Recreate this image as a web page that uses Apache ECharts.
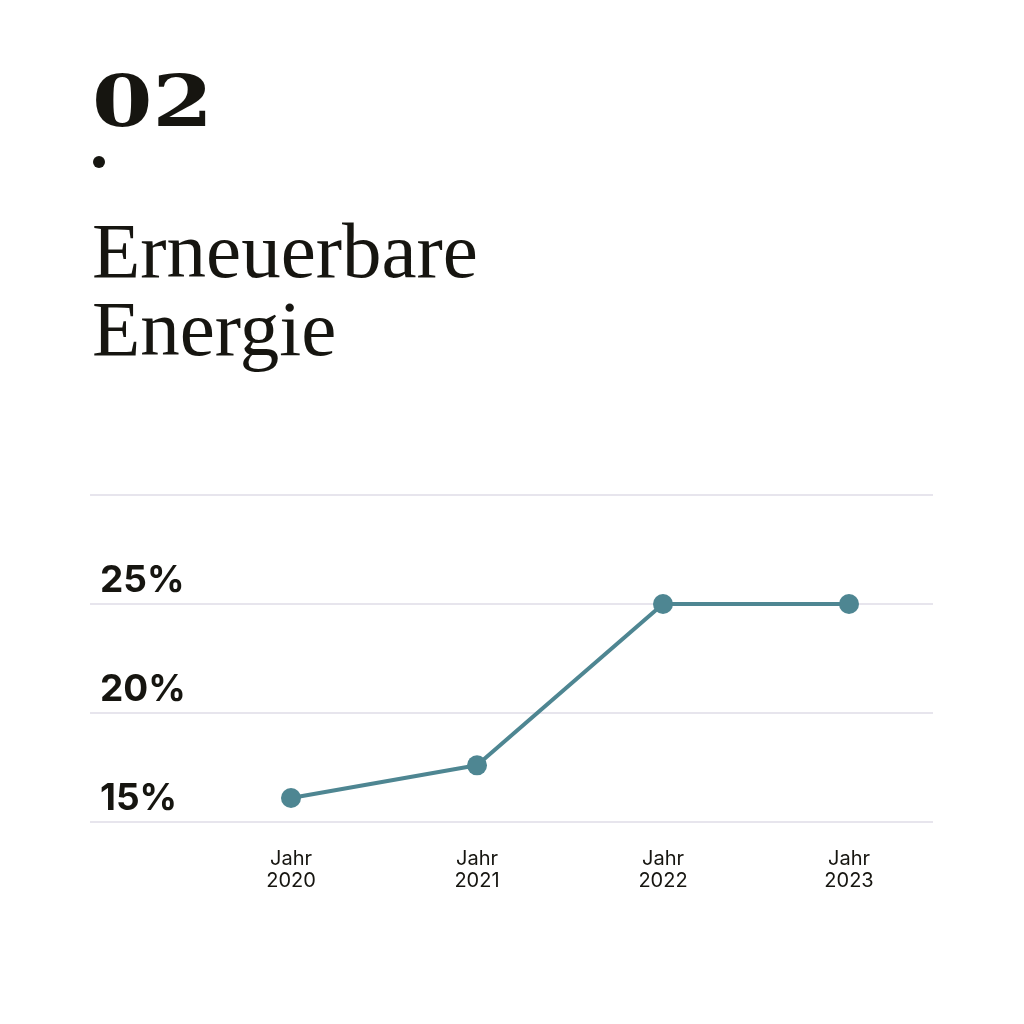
<!DOCTYPE html>
<html>
<head>
<meta charset="utf-8">
<script src="https://cdn.jsdelivr.net/npm/echarts@6/dist/echarts.min.js"></script>
<style>
  html, body { margin: 0; padding: 0; background: #fff; }
  #chart { width: 1024px; height: 1024px; }
</style>
</head>
<body>
<div id="chart"></div>
<script>
  // data
  var years = ['Jahr\n2020', 'Jahr\n2021', 'Jahr\n2022', 'Jahr\n2023'];
  var shares = [16.1, 17.6, 25, 25];
  var yTicks = { min: 15, max: 30, step: 5 };

  var ink = '#161510';
  var teal = '#4e8692';
  var gridColor = '#e7e5ed';

  var chart = echarts.init(document.getElementById('chart'));
  chart.setOption({
    backgroundColor: '#fff',
    animation: false,
    graphic: [
      // big number, squashed a bit to look like the old-style figures
      { type: 'text', x: 92, y: 143, scaleX: 1.06, scaleY: 0.86,
        style: { text: '02', font: 'bold 82px "DejaVu Serif"', fill: ink, verticalAlign: 'bottom' } },
      { type: 'circle', shape: { cx: 99, cy: 162, r: 6 }, style: { fill: ink } },
      { type: 'text', left: 92, top: 217,
        style: { text: 'Erneuerbare\nEnergie', font: '79px "Liberation Serif"', lineHeight: 78, fill: ink } }
    ],
    grid: [
      { left: 90, right: 91, top: 495, bottom: 202 },
      { left: 198, right: 82, top: 495, bottom: 202 }
    ],
    xAxis: [
      { type: 'value', gridIndex: 0, show: false, min: 0, max: 1 },
      {
        type: 'category', gridIndex: 1, data: years, boundaryGap: true,
        axisLine: { show: false }, axisTick: { show: false },
        axisLabel: { margin: 26, color: ink, fontFamily: 'Inter', fontSize: 20, lineHeight: 22 }
      }
    ],
    yAxis: [
      {
        type: 'value', gridIndex: 0, min: yTicks.min, max: yTicks.max, interval: yTicks.step,
        axisLine: { show: false }, axisTick: { show: false },
        splitLine: { lineStyle: { color: gridColor, width: 2 } },
        axisLabel: {
          showMaxLabel: false, align: 'left', margin: -10, verticalAlign: 'bottom',
          padding: [0, 0, 4, 0], lineHeight: 38,
          color: ink, fontFamily: 'Inter', fontWeight: 'bold', fontSize: 37,
          formatter: function (v) { return v + '%'; }
        }
      },
      { type: 'value', gridIndex: 1, min: yTicks.min, max: yTicks.max, show: false }
    ],
    series: [{
      type: 'line', xAxisIndex: 1, yAxisIndex: 1, data: shares,
      symbol: 'circle', symbolSize: 20,
      lineStyle: { color: teal, width: 4 },
      itemStyle: { color: teal }
    }]
  });
</script>
</body>
</html>
